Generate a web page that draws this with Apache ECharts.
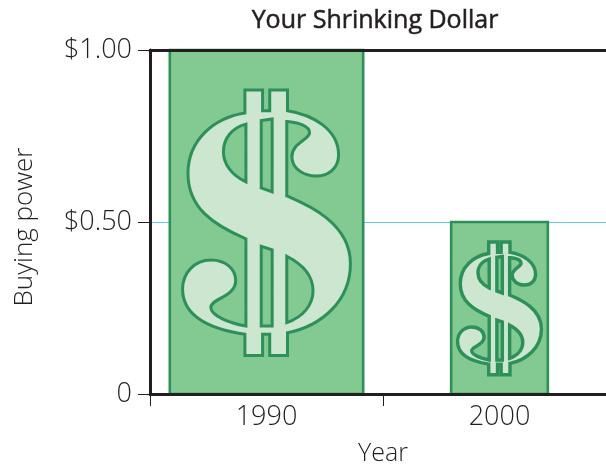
<!DOCTYPE html>
<html><head><meta charset="utf-8">
<style>html,body{margin:0;padding:0;background:#fff}#c{width:606px;height:466px;overflow:hidden}</style>
<script src="https://cdn.jsdelivr.net/npm/echarts@6/dist/echarts.min.js"></script>
</head><body><div id="c"></div>
<script>
const categories = ['1990', '2000'];
const buyingPower = [1.0, 0.5];
const yTickLabels = { 0: '0', 0.5: '$0.50', 1: '$1.00' };

const dollarGlyph = 'M245 90.3L262.3 90.3L262.3 111L269.3 111L269.3 90.3L286.7 90.3L286.7 111C312 115 336.7 130 336.7 155C336.7 168 327 176 315 176C302 176 291 168 291 156.7C291 143 308 140 308.3 133C308.5 126 297 122.5 286 121.7L286 195.7C305 204 348.3 222 348.3 263C348.3 300 320 325 286.7 331.7L286.7 354.3L269.3 354.3L269.3 333.3L262.3 333.3L262.3 354.3L245 354.3L245 333.3C210 328 184 315 184 288.3C184 272 196 259.3 211.7 259.3C226 259.3 236 268 236 280C236 296 211 298 211.7 306.7C212 315 230 322 246 325L246 238.3C215 225 189.3 208 189.3 173.3C189.3 140 215 118 245 113.3Z'
 + 'M246 124.3C232 128 224 139 224 151.7C224 164 232 175 246 181.7Z'
 + 'M261 120.7L261 187.7L271.7 191.7L271.7 119.3Z'
 + 'M261 245.7L261 325L271.7 325L271.7 249.3Z'
 + 'M286 255.7L286 321.7C302 316 311.7 304 311.7 290C311.7 275 302 264 286 255.7Z';

const FONT = '"Open Sans"';
const INK = '#231f20';
const chart = echarts.init(document.getElementById('c'), null, { renderer: 'canvas' });

function renderBar(params, api) {
  const idx = api.value(0), val = api.value(1);
  const top = api.coord([idx, val]);
  const base = api.coord([idx, 0]);
  const band = api.size([1, 0])[0];
  const w = val * 0.83 * band;
  const h = base[1] - top[1];
  const x = top[0] - w / 2, y = top[1];
  return {
    type: 'group',
    children: [
      { type: 'rect', shape: { x, y, width: w, height: h },
        style: { fill: '#82c992', stroke: '#2e9059', lineWidth: 2.6 } },
      { type: 'path',
        shape: { pathData: dollarGlyph, layout: 'cover',
                 x: x + 0.066 * w, y: y + 0.116 * h, width: 0.868 * w, height: 0.772 * h },
        style: { fill: '#cce6d0', stroke: '#2e9059', lineWidth: val < 1 ? 3.4 : 3 } }
    ]
  };
}

chart.setOption({
  animation: false,
  title: { text: 'Your Shrinking Dollar', left: 370, top: 3, textAlign: 'center',
    textStyle: { fontFamily: FONT, fontSize: 25, fontWeight: 400, color: INK,
                 textBorderColor: INK, textBorderWidth: 0.5 } },
  grid: { left: 150, top: 50, width: 466, height: 344, outerBoundsMode: 'none', containLabel: false },
  xAxis: [
    { type: 'category', data: categories, position: 'bottom', z: 5,
      name: 'Year', nameLocation: 'middle', nameGap: 47,
      nameTextStyle: { fontFamily: FONT, fontSize: 25, fontWeight: 300, color: INK },
      axisLine: { lineStyle: { color: INK, width: 3 } },
      axisTick: { show: true, alignWithLabel: false, length: 12, lineStyle: { color: INK, width: 1 } },
      axisLabel: { fontFamily: FONT, fontSize: 27, fontWeight: 300, color: INK, margin: 10 } },
    { type: 'category', data: categories, position: 'top', z: 5,
      axisLine: { lineStyle: { color: INK, width: 3 } },
      axisTick: { show: false }, axisLabel: { show: false } }
  ],
  yAxis: {
    type: 'value', min: 0, max: 1, interval: 0.5, z: 0,
    name: 'Buying power', nameLocation: 'middle', nameGap: 112, nameRotate: 90,
    nameTextStyle: { fontFamily: FONT, fontSize: 26, fontWeight: 300, color: INK, padding: [0, 10, 0, 0] },
    axisLine: { show: true, lineStyle: { color: INK, width: 3 } },
    axisTick: { show: true, length: 12, lineStyle: { color: INK, width: 1 } },
    axisLabel: { fontFamily: FONT, fontSize: 27, fontWeight: 300, color: INK, margin: 18,
      formatter: v => yTickLabels[v] },
    splitLine: { show: true, lineStyle: { color: '#5fd0f5', width: 1 } }
  },
  series: [{
    type: 'custom', renderItem: renderBar, clip: false,
    encode: { x: 0, y: 1 },
    data: categories.map((c, i) => [i, buyingPower[i]])
  }]
});
</script></body></html>
